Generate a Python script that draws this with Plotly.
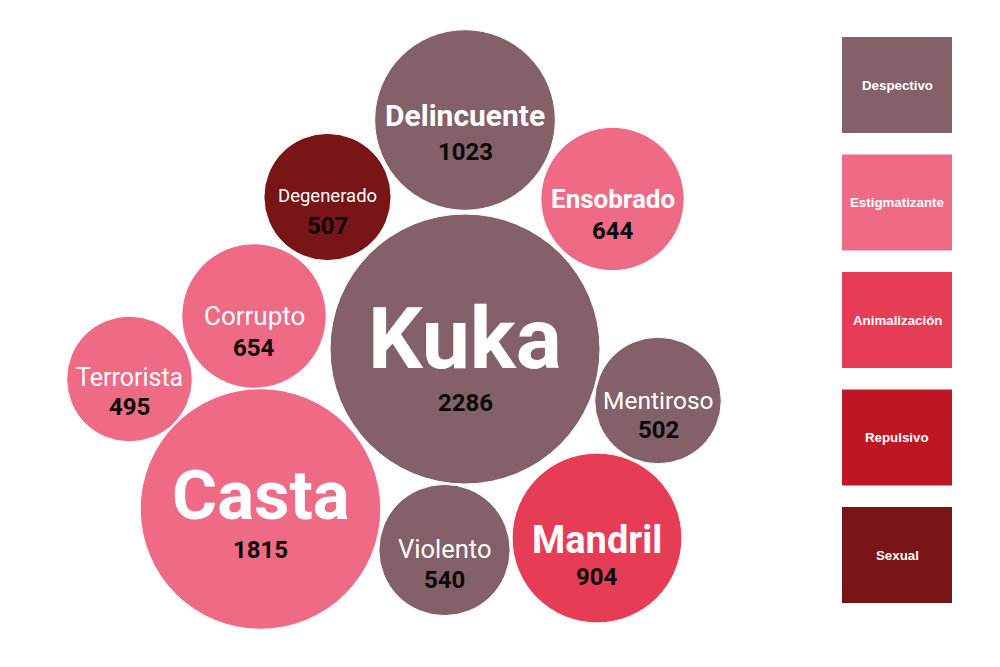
"""Insultos más usados: burbujas por cantidad de menciones y tipo de insulto."""

import plotly.graph_objects as go

# ---------- データ ----------
WORDS = ["Kuka", "Casta", "Delincuente", "Mandril", "Corrupto",
         "Ensobrado", "Violento", "Degenerado", "Mentiroso", "Terrorista"]
COUNTS = [2286, 1815, 1023, 904, 654, 644, 540, 507, 502, 495]
TYPES = ["Despectivo", "Estigmatizante", "Despectivo", "Animalización", "Estigmatizante",
         "Estigmatizante", "Despectivo", "Sexual", "Despectivo", "Estigmatizante"]

CATEGORIES = ["Despectivo", "Estigmatizante", "Animalización", "Repulsivo", "Sexual"]

# ---------- 表示設定 ----------
CAT_COLOR = {
    "Despectivo":     "#846069",
    "Estigmatizante": "#ee6a85",
    "Animalización":  "#e63c55",
    "Repulsivo":      "#be1623",
    "Sexual":         "#791517",
}

# packed layout (pixel coordinates, y downward)
BUBBLE_X = [465, 260.5, 465, 597, 254, 612.5, 444.5, 327.5, 658, 129.5]
BUBBLE_Y = [349, 509, 120, 538, 316, 199, 550, 197, 400.5, 379]
LABEL_SIZE = [86, 69, 30, 38, 26, 26, 25.5, 18.5, 24.5, 25]
LABEL_BOLD = [True, True, True, True, False, True, False, False, False, False]
LABEL_DY = [-11, -14, -4.5, 1.5, 0, 0, -1.5, -1, 0, -2]
NUM_DY = [54, 41, 32, 39, 31.5, 32, 29.5, 28.5, 29, 27.5]
NUM_SIZE = 24
MAX_DIAM = 270

LEG_X0, LEG_X1 = 842, 952
LEG_TOP, LEG_H, LEG_STEP = 37, 96, 117.5

W, H = 1000, 667
PAGE_PAD = 8  # body margin of the html page

# ---------- Figure ----------
fig = go.Figure()

fig.add_trace(go.Scatter(
    x=BUBBLE_X,
    y=BUBBLE_Y,
    mode="markers",
    marker=dict(
        size=COUNTS,
        sizemode="area",
        sizeref=2 * max(COUNTS) / MAX_DIAM ** 2,
        color=[CAT_COLOR[t] for t in TYPES],
        opacity=1,
        line=dict(color="white", width=1),
    ),
    hoverinfo="skip",
    showlegend=False,
))

# ラベルと件数
for i, word in enumerate(WORDS):
    fig.add_annotation(
        x=BUBBLE_X[i], y=BUBBLE_Y[i] + LABEL_DY[i],
        text=word, showarrow=False,
        xanchor="center", yanchor="middle",
        font=dict(family="Roboto", size=LABEL_SIZE[i], color="white",
                  weight=700 if LABEL_BOLD[i] else 400),
    )
    fig.add_annotation(
        x=BUBBLE_X[i], y=BUBBLE_Y[i] + NUM_DY[i],
        text=str(COUNTS[i]), showarrow=False,
        xanchor="center", yanchor="middle",
        font=dict(family="Roboto", size=NUM_SIZE, color="#0a0a0a", weight=700),
    )

# 凡例（右側の四角）
for j, cat in enumerate(CATEGORIES):
    y0 = LEG_TOP + j * LEG_STEP
    fig.add_shape(
        type="rect", xref="x", yref="y",
        x0=LEG_X0, x1=LEG_X1, y0=y0, y1=y0 + LEG_H,
        fillcolor=CAT_COLOR[cat], line=dict(width=0), layer="below",
    )
    fig.add_annotation(
        x=(LEG_X0 + LEG_X1) / 2, y=y0 + LEG_H / 2,
        text=cat, showarrow=False,
        xanchor="center", yanchor="middle",
        font=dict(family="Liberation Sans, Arial, sans-serif", size=13.3,
                  color="white", weight=700),
    )

fig.update_layout(
    xaxis=dict(range=[PAGE_PAD, W + PAGE_PAD], visible=False, fixedrange=True),
    yaxis=dict(range=[H + PAGE_PAD, PAGE_PAD], visible=False, fixedrange=True),
    plot_bgcolor="white",
    paper_bgcolor="white",
    margin=dict(l=0, r=0, t=0, b=0),
    width=W,
    height=H,
    hovermode=False,
    showlegend=False,
)

fig.write_html("out.html")
